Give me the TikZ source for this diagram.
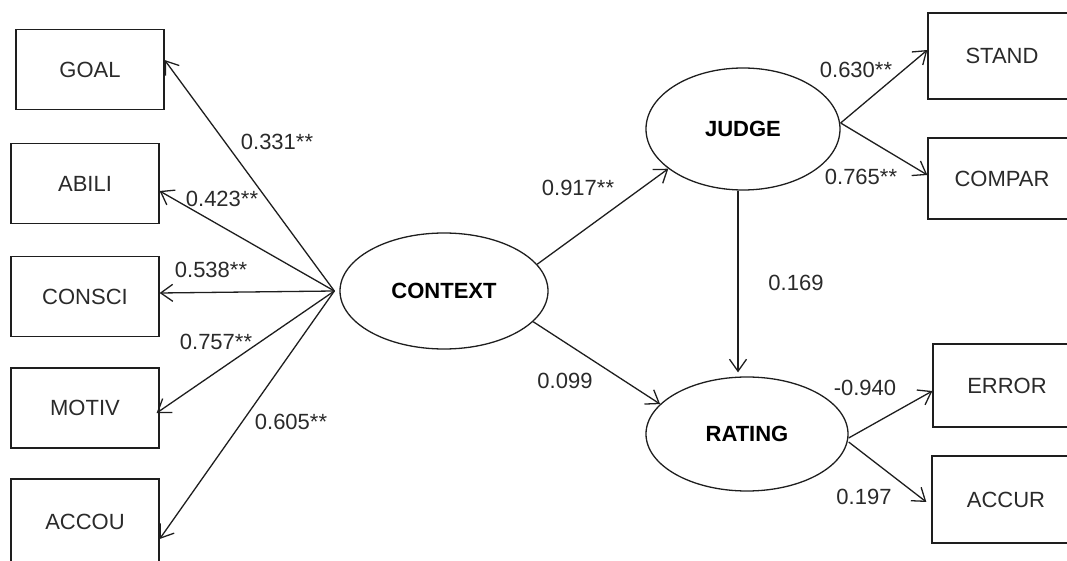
\documentclass[tikz,border=0pt]{standalone}
\usepackage{fontspec}
\setmainfont{Liberation Sans}
\usetikzlibrary{shapes.geometric,arrows.meta}
\definecolor{ink}{HTML}{1E1E1E}
\definecolor{txt}{HTML}{2A2A2A}
\begin{document}
\begin{tikzpicture}[x=0.5pt,y=-0.5pt,
  line width=0.65pt, draw=ink,
  obs/.style={draw=ink, rectangle, minimum width=74pt, minimum height=40pt, inner sep=0pt,
    font=\fontsize{11}{13}\selectfont, text=txt},
  latent/.style={draw=ink, ellipse, inner sep=0pt,
    font=\bfseries\fontsize{11}{13}\selectfont, text=black},
  coef/.style={inner sep=0pt, font=\fontsize{11}{13}\selectfont, text=txt},
  path/.style={draw=ink, -{Straight Barb[length=6pt,width=8.5pt,line width=0.65pt]}}]
\useasboundingbox (0,0) rectangle (1067,561);
\clip (0,0) rectangle (1067,561);

% indicators of CONTEXT
\node[obs] (goal)   at (90,69.5)  {GOAL};
\node[obs] (abili)  at (85,183.5) {ABILI};
\node[obs] (consci) at (85,296.5) {CONSCI};
\node[obs] (motiv)  at (85,408)   {MOTIV};
\node[obs, minimum height=43pt] (accou) at (85,522) {ACCOU};

% latent variables
\node[latent, minimum width=104pt, minimum height=58pt] (context) at (444,291) {CONTEXT};
\node[latent, minimum width=97pt,  minimum height=61pt] (judge)   at (743,129) {JUDGE};
\node[latent, minimum width=101pt, minimum height=57pt] (rating)  at (747,434) {RATING};

% indicators of JUDGE and RATING
\node[obs, minimum height=43pt]   (stand)  at (1002,56)    {STAND};
\node[obs, minimum height=40.5pt] (compar) at (1002,178.5) {COMPAR};
\node[obs, minimum height=41.5pt] (error)  at (1007,385.5) {ERROR};
\node[obs, minimum height=43.5pt] (accur)  at (1006,499.5) {ACCUR};

% loadings of CONTEXT
\draw[path] ([xshift=-2.5pt]context.west) -- ([yshift=4.75pt]goal.east);
\draw[path] ([xshift=-2.5pt]context.west) -- ([yshift=-3.75pt]abili.east);
\draw[path] ([xshift=-2.5pt]context.west) -- ([yshift=1.75pt]consci.east);
\draw[path] ([xshift=-2.5pt]context.west) -- ([xshift=-1.5pt,yshift=-2.5pt]motiv.east);
\draw[path] ([xshift=-2.5pt]context.west) -- ([yshift=-8.5pt]accou.east);

% structural paths
\draw[path] (context.16) -- (judge.208);
\draw[path] (context.-19.5) -- (rating.161);
\draw[path, shorten >=2pt] ([xshift=-2.5pt]judge.south) -- ([xshift=-2.5pt]judge.south |- rating.north);

% loadings of JUDGE and RATING
\draw[path] ([yshift=3pt]judge.east) -- ([yshift=3pt]stand.west);
\draw[path] ([yshift=3pt]judge.east) -- ([yshift=1.75pt]compar.west);
\draw[path] ([yshift=-2pt]rating.east) -- ([yshift=-2.75pt]error.west);
\draw[path] ([yshift=-4pt]rating.east) -- ([xshift=-2.5pt,yshift=-1.25pt]accur.west);

% coefficients
\node[coef] (c1)  at (277,142) {0.331**};
\node[coef] (c2)  at (222,199) {0.423**};
\node[coef] (c3)  at (211,270) {0.538**};
\node[coef] (c4)  at (216,342) {0.757**};
\node[coef] (c5)  at (291,422) {0.605**};
\node[coef] (c6)  at (578,188) {0.917**};
\node[coef] (c7)  at (565,381) {0.099};
\node[coef] (c8)  at (796,283) {0.169};
\node[coef] (c9)  at (856,70)  {0.630**};
\node[coef] (c10) at (861,177) {0.765**};
\node[coef] (c11) at (865,388) {-0.940};
\node[coef] (c12) at (864,497) {0.197};
\end{tikzpicture}
\end{document}
